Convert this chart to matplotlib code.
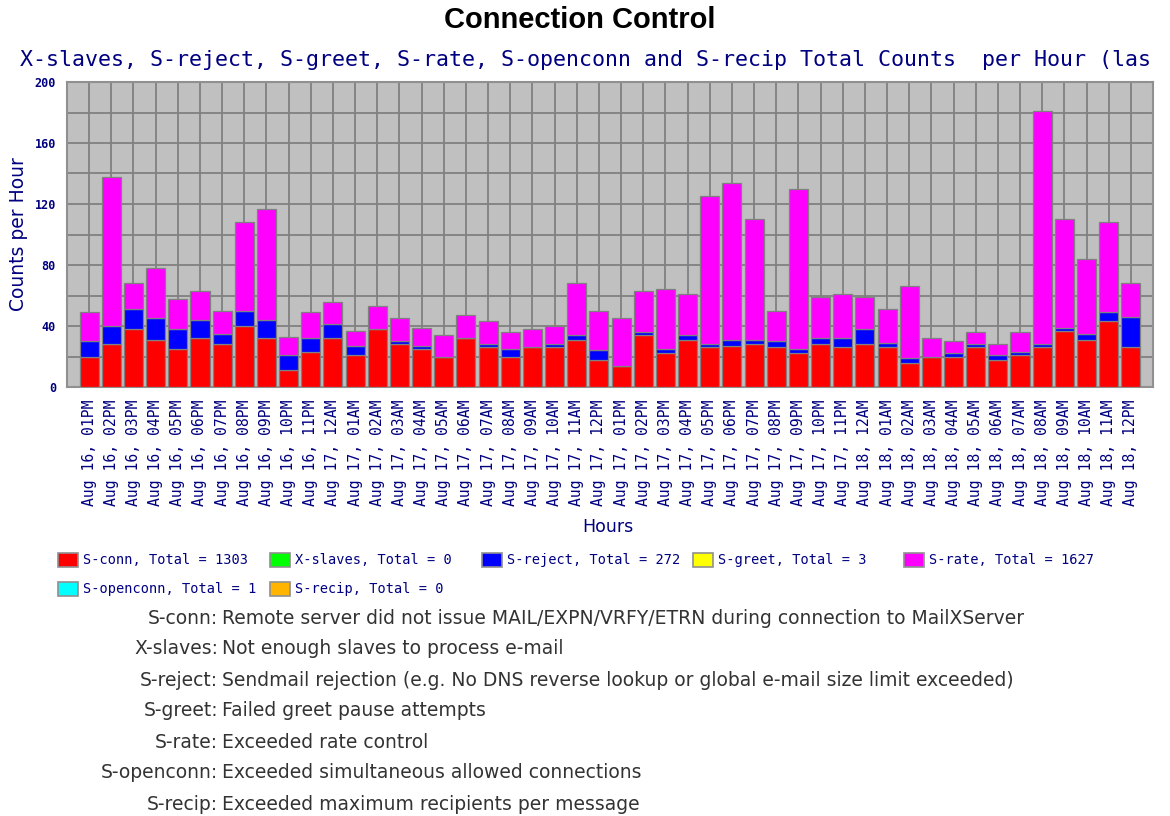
import numpy as np
import matplotlib
matplotlib.use("Agg")
import matplotlib.pyplot as plt
from matplotlib.patches import Rectangle

#######################
# Data (counts per hour)
# # # # # # # # # # # #
hours = ["Aug 16, 01PM", "Aug 16, 02PM", "Aug 16, 03PM", "Aug 16, 04PM",
         "Aug 16, 05PM", "Aug 16, 06PM", "Aug 16, 07PM", "Aug 16, 08PM",
         "Aug 16, 09PM", "Aug 16, 10PM", "Aug 16, 11PM", "Aug 17, 12AM",
         "Aug 17, 01AM", "Aug 17, 02AM", "Aug 17, 03AM", "Aug 17, 04AM",
         "Aug 17, 05AM", "Aug 17, 06AM", "Aug 17, 07AM", "Aug 17, 08AM",
         "Aug 17, 09AM", "Aug 17, 10AM", "Aug 17, 11AM", "Aug 17, 12PM",
         "Aug 17, 01PM", "Aug 17, 02PM", "Aug 17, 03PM", "Aug 17, 04PM",
         "Aug 17, 05PM", "Aug 17, 06PM", "Aug 17, 07PM", "Aug 17, 08PM",
         "Aug 17, 09PM", "Aug 17, 10PM", "Aug 17, 11PM", "Aug 18, 12AM",
         "Aug 18, 01AM", "Aug 18, 02AM", "Aug 18, 03AM", "Aug 18, 04AM",
         "Aug 18, 05AM", "Aug 18, 06AM", "Aug 18, 07AM", "Aug 18, 08AM",
         "Aug 18, 09AM", "Aug 18, 10AM", "Aug 18, 11AM", "Aug 18, 12PM"]

s_conn = [20, 28, 38, 31, 25, 32, 28, 40, 32, 11, 23, 32,
          21, 38, 28, 25, 20, 32, 26, 20, 26, 26, 31, 18,
          14, 34, 22, 31, 26, 27, 28, 26, 22, 28, 26, 28,
          26, 16, 20, 20, 26, 18, 21, 26, 37, 31, 43, 26]
x_slaves = [0] * 48
s_reject = [10, 12, 13, 14, 13, 12, 7, 10, 12, 10, 9, 9,
            6, 0, 2, 2, 0, 0, 2, 5, 0, 2, 3, 6,
            0, 2, 3, 3, 2, 4, 3, 4, 3, 4, 6, 10,
            3, 3, 0, 2, 2, 3, 2, 2, 2, 4, 6, 20]
s_greet = [0] * 48
s_rate = [19, 98, 17, 33, 20, 19, 15, 58, 73, 12, 17, 15,
          10, 15, 15, 12, 14, 15, 15, 11, 12, 12, 34, 26,
          31, 27, 39, 27, 97, 103, 79, 20, 105, 27, 29, 21,
          22, 47, 12, 8, 8, 7, 13, 153, 71, 49, 59, 22]
s_openconn = [0] * 48
s_recip = [0] * 48

names = ["S-conn", "X-slaves", "S-reject", "S-greet", "S-rate",
         "S-openconn", "S-recip"]
totals = [1303, 0, 272, 3, 1627, 1, 0]
colors = ["#FF0000", "#00FF00", "#0000FF", "#FFFF00", "#FF00FF",
          "#00FFFF", "#FFB400"]
descr = ["Remote server did not issue MAIL/EXPN/VRFY/ETRN during connection to MailXServer",
         "Not enough slaves to process e-mail",
         "Sendmail rejection (e.g. No DNS reverse lookup or global e-mail size limit exceeded)",
         "Failed greet pause attempts",
         "Exceeded rate control",
         "Exceeded simultaneous allowed connections",
         "Exceeded maximum recipients per message"]
#######################

navy = "#000080"
mono = ["DejaVu Sans Mono"]
W, H = 1170, 816

fig = plt.figure(figsize=(W / 100, H / 100), dpi=100)
fig.patch.set_facecolor("white")
ax = fig.add_axes([67 / W, 1 - 387 / H, 1086 / W, 305 / H])
ax.set_facecolor("#C0C0C0")

series = [s_conn, x_slaves, s_reject, s_greet, s_rate, s_openconn, s_recip]
x = np.arange(len(hours))
bottom = np.zeros(len(hours))
for vals, c in zip(series, colors):
    v = np.array(vals, dtype=float)
    if v.sum() > 0:
        ax.bar(x, v, bottom=bottom, width=0.86, color=c,
               edgecolor="#808080", linewidth=0.9, zorder=3)
    bottom += v

ax.set_xlim(-1, len(hours))
ax.set_ylim(0, 200)
ax.set_yticks(np.arange(0, 201, 40))
ax.set_yticks(np.arange(0, 201, 20), minor=True)
ax.set_xticks(x)
ax.set_xticklabels(hours, rotation=90, family=mono, fontsize=10.6, color=navy)
ax.tick_params(axis="both", which="both", length=0)
ax.tick_params(axis="x", pad=9)
ax.tick_params(axis="y", pad=8)
for lab in ax.get_yticklabels():
    lab.set_family(mono)
    lab.set_fontsize(8.5)
    lab.set_fontweight("bold")
    lab.set_color(navy)
ax.grid(True, which="both", color="#808080", linewidth=1.3, zorder=0)
ax.set_axisbelow(True)
for sp in ax.spines.values():
    sp.set_color("#909090")
    sp.set_linewidth(1.5)

ax.set_ylabel("Counts per Hour", fontsize=13.5, color=navy)
ax.yaxis.set_label_coords((28 - 67) / 1086, 0.5)
ax.set_xlabel("Hours", fontsize=12.5, color=navy)
ax.xaxis.set_label_coords((608 - 67) / 1086, -(527 - 387) / 305)
ax.xaxis.label.set_va("center")

# titles
fig.text(580 / W, 1 - 20 / H, "Connection Control", ha="center", va="center",
         family=["Liberation Sans", "DejaVu Sans"], fontweight="bold",
         fontsize=21)
fig.text(20 / W, 1 - 60 / H,
         "X-slaves, S-reject, S-greet, S-rate, S-openconn and S-recip Total Counts  per Hour (las",
         ha="left", va="center", family=mono, fontsize=15.6, color=navy)

# legend grid
lx = [58, 270, 482, 693, 904, 58, 270]
ly = [560, 560, 560, 560, 560, 589, 589]
for i in range(len(names)):
    fig.patches.append(Rectangle((lx[i] / W, 1 - (ly[i] + 7) / H), 20 / W, 14 / H,
                                 transform=fig.transFigure, facecolor=colors[i],
                                 edgecolor="#909090", linewidth=1.2))
    fig.text((lx[i] + 25) / W, 1 - ly[i] / H,
             "%s, Total = %d" % (names[i], totals[i]),
             ha="left", va="center", family=mono, fontsize=9.8, color=navy)

# descriptions
for i in range(len(names)):
    yy = 1 - (618 + 31 * i) / H
    fig.text(218 / W, yy, names[i] + ":", ha="right", va="center",
             fontsize=13.5, color="#333333")
    fig.text(222 / W, yy, descr[i], ha="left", va="center",
             fontsize=13.5, color="#333333")

fig.savefig("out.png", dpi=100)
